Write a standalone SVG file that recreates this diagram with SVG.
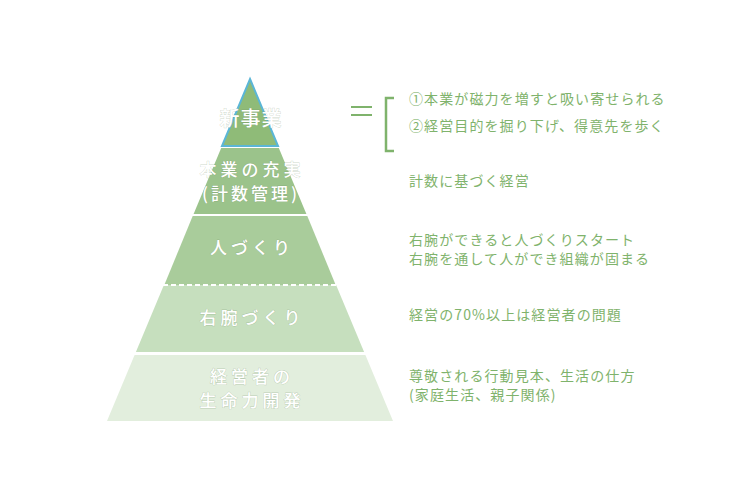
<svg xmlns="http://www.w3.org/2000/svg" width="750" height="500" viewBox="0 0 750 500">
<style>
.lbl{font-family:"Noto Sans CJK JP","Noto Sans",sans-serif;font-weight:500;fill:#ffffff;stroke:rgba(110,140,100,0.35);stroke-width:0.8;paint-order:stroke;text-anchor:middle;}
.desc{font-family:"Noto Sans CJK JP","Noto Sans",sans-serif;fill:#7fb36c;font-size:14px;letter-spacing:1.1px;}
.sep{stroke:#ffffff;stroke-width:2;fill:none;}
</style>
<rect width="750" height="500" fill="#ffffff"/>
<g id="layer5">
<polygon points="134.6,355 365.4,355 393,421 107,421" fill="#e2eedd"/>
<text class="lbl" x="252" y="383" font-size="17" letter-spacing="4">経営者の</text>
<text class="lbl" x="252" y="407" font-size="17" letter-spacing="4">生命力開発</text>
</g>
<g id="layer4">
<polygon points="163.9,285 336.1,285 364.1,352 135.9,352" fill="#c6dfbe"/>
<text class="lbl" x="252" y="324" font-size="17" letter-spacing="4">右腕づくり</text>
</g>
<g id="layer3">
<polygon points="192.7,216 307.3,216 335.7,285 164.3,285" fill="#a9cc9b"/>
<text class="lbl" x="252" y="254" font-size="17" letter-spacing="4">人づくり</text>
</g>
<g id="layer2">
<polygon points="221.2,148 278.8,148 306.4,214 193.6,214" fill="#9bc38b"/>
<text class="lbl" x="252" y="176" font-size="17" letter-spacing="4">本業の充実</text>
<text class="lbl" x="251" y="200" font-size="17" letter-spacing="3">(計数管理)</text>
</g>
<g id="layer1">
<polygon points="250,79 278,146 222,146" fill="#8fbb78" stroke="#5bb6d6" stroke-width="2" stroke-linejoin="miter"/>
<text class="lbl" x="251" y="126" font-size="20" letter-spacing="1">新事業</text>
</g>
<g id="connectors">
<line class="sep" x1="163" y1="285" x2="337" y2="285" stroke-dasharray="5,3"/>
<line x1="351" y1="107" x2="372" y2="107" stroke="#7fb36c" stroke-width="2"/>
<line x1="351" y1="115" x2="372" y2="115" stroke="#7fb36c" stroke-width="2"/>
<polyline points="394,98 386,98 386,151 394,151" fill="none" stroke="#7fb36c" stroke-width="2.5"/>
</g>
<g id="descriptions">
<text class="desc" x="409" y="104">①本業が磁力を増すと吸い寄せられる</text>
<text class="desc" x="409" y="131">②経営目的を掘り下げ、得意先を歩く</text>
<text class="desc" x="409" y="186">計数に基づく経営</text>
<text class="desc" x="409" y="245">右腕ができると人づくりスタート</text>
<text class="desc" x="409" y="264">右腕を通して人ができ組織が固まる</text>
<text class="desc" x="409" y="320">経営の70%以上は経営者の問題</text>
<text class="desc" x="409" y="381">尊敬される行動見本、生活の仕方</text>
<text class="desc" x="409" y="400">(家庭生活、親子関係)</text>
</g>
</svg>
